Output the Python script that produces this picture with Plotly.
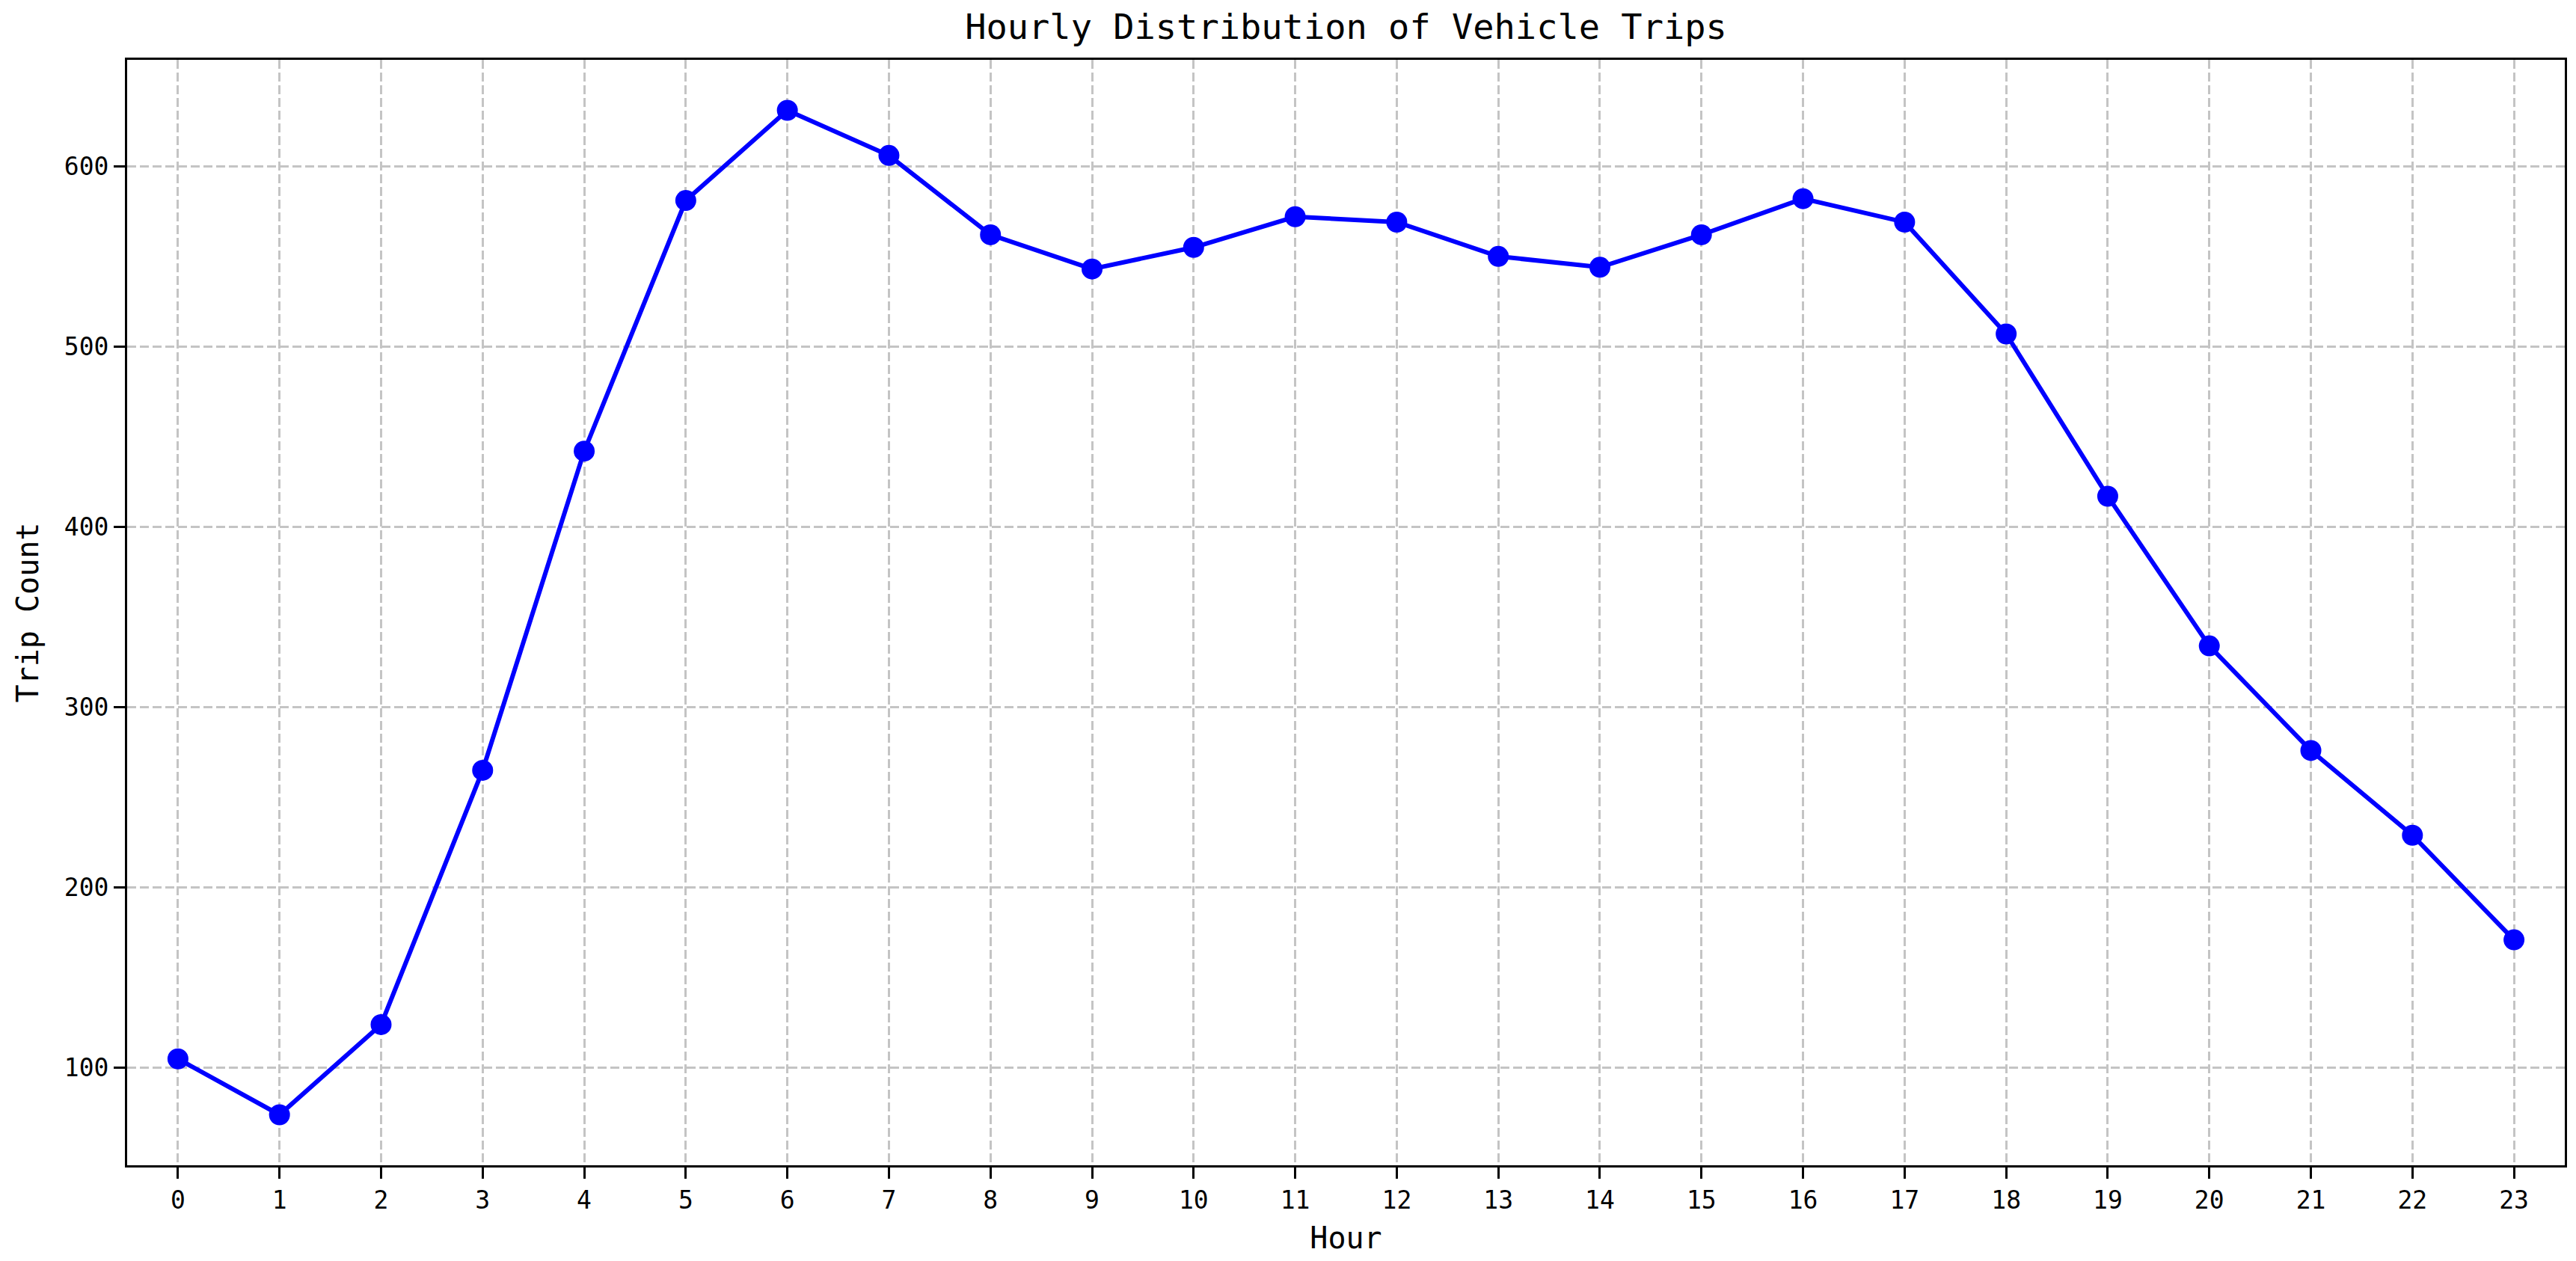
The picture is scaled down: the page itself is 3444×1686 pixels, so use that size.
import plotly.graph_objects as go

hours = list(range(24))
trip_counts = [105, 74, 124, 265, 442, 581, 631, 606, 562, 543, 555, 572,
               569, 550, 544, 562, 582, 569, 507, 417, 334, 276, 229, 171]
x_tick_labels = [str(h) for h in hours]
y_tick_values = [100, 200, 300, 400, 500, 600]

title_text = "Hourly Distribution of Vehicle Trips"
x_title = "Hour"
y_title = "Trip Count"

FONT = "DejaVu Sans Mono"
W, H = 3428, 1670  # page body has an 8px margin

fig = go.Figure()
fig.add_trace(go.Scatter(
    x=hours, y=trip_counts, mode="lines+markers",
    line=dict(color="#0000ff", width=6),
    marker=dict(color="#0000ff", size=28),
    showlegend=False,
))

grid_common = dict(
    showgrid=True, gridcolor="#c4c4c4", gridwidth=2.5, griddash="12px,5px",
    showline=True, linecolor="black", linewidth=3, mirror=True,
    ticks="outside", ticklen=15, tickwidth=3, tickcolor="black",
    zeroline=False,
)

fig.update_layout(
    width=W, height=H,
    paper_bgcolor="white", plot_bgcolor="white",
    margin=dict(l=162, r=4, t=72, b=120),
    font=dict(family=FONT, color="black"),
    title=dict(text=title_text, x=0.5, xref="paper", y=1 - 28 / H,
               yref="container", xanchor="center", yanchor="middle",
               font=dict(family=FONT, size=47, color="black")),
    xaxis=dict(
        range=[-0.5, 23.5], tickmode="array", tickvals=hours,
        ticktext=x_tick_labels, tickfont=dict(size=33),
        title=dict(text=x_title, font=dict(size=40), standoff=20),
        **grid_common,
    ),
    yaxis=dict(
        range=[46, 659], tickmode="array", tickvals=y_tick_values,
        tickfont=dict(size=33),
        title=dict(text=y_title, font=dict(size=40), standoff=22),
        **grid_common,
    ),
)

fig.write_html("out.html")
